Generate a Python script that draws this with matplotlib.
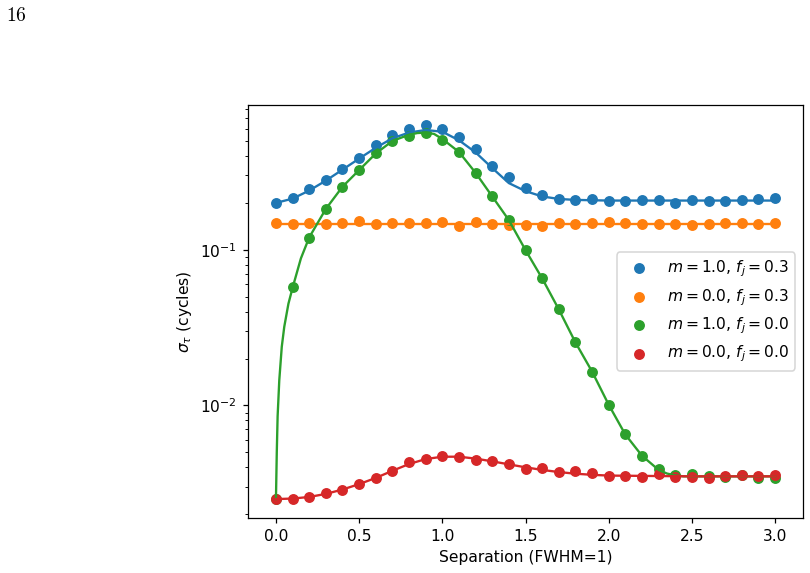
import numpy as np
import matplotlib.pyplot as plt

# separations at which the simulations were run
sep = np.round(np.arange(0, 3.01, 0.1), 1)

# simulated sigma_tau (cycles)
sig_m1_f03 = [0.200, 0.216, 0.244, 0.281, 0.331, 0.390, 0.473, 0.543, 0.600, 0.633,
              0.597, 0.532, 0.442, 0.345, 0.292, 0.250, 0.226, 0.213, 0.209, 0.211,
              0.206, 0.205, 0.210, 0.208, 0.1995, 0.208, 0.206, 0.205, 0.210, 0.211,
              0.214]
sig_m0_f03 = [0.149, 0.1456, 0.148, 0.147, 0.148, 0.154, 0.147, 0.148, 0.148, 0.148,
              0.150, 0.143, 0.151, 0.146, 0.144, 0.144, 0.143, 0.148, 0.146, 0.148,
              0.150, 0.149, 0.146, 0.146, 0.147, 0.145, 0.147, 0.149, 0.149, 0.146,
              0.148]
sig_m1_f00 = [0.0025, 0.0573, 0.1194, 0.183, 0.254, 0.325, 0.417, 0.500, 0.541, 0.560,
              0.507, 0.423, 0.311, 0.220, 0.155, 0.0995, 0.0655, 0.0414, 0.0254, 0.0165,
              0.01005, 0.00651, 0.00475, 0.00392, 0.00355, 0.00360, 0.00354, 0.00349,
              0.00355, 0.00343, 0.00343]
sig_m0_f00 = [0.00250, 0.00249, 0.00257, 0.00272, 0.00287, 0.00313, 0.00343, 0.00380,
              0.00434, 0.00450, 0.00472, 0.00465, 0.00448, 0.00436, 0.00422, 0.00392,
              0.00397, 0.00371, 0.00378, 0.00369, 0.00352, 0.00352, 0.00349, 0.00362,
              0.00346, 0.00349, 0.00343, 0.00352, 0.00355, 0.00350, 0.00355]

# model curves
mod_x = [0.0, 0.1, 0.2, 0.3, 0.4, 0.5, 0.6, 0.7, 0.8, 0.9, 1.0, 1.1, 1.2, 1.3, 1.4,
         1.5, 1.6, 1.7, 1.8, 1.9, 2.0, 2.5, 3.0]
mod_m1_f03 = [0.200, 0.213, 0.240, 0.278, 0.327, 0.385, 0.452, 0.520, 0.566, 0.588,
              0.573, 0.505, 0.422, 0.335, 0.268, 0.238, 0.220, 0.212, 0.209, 0.208,
              0.207, 0.207, 0.207]
mod_m0_f03 = [0.147] * len(mod_x)
mod_m0_f00 = [0.00250, 0.00252, 0.00258, 0.00270, 0.00288, 0.00312, 0.00342, 0.00380,
              0.00420, 0.00452, 0.00468, 0.00468, 0.00455, 0.00437, 0.00418, 0.00400,
              0.00385, 0.00373, 0.00364, 0.00358, 0.00354, 0.00350, 0.00350]

mod_x_g = [0.0, 0.002, 0.005, 0.01, 0.02, 0.035, 0.05, 0.075, 0.1, 0.15, 0.2, 0.3, 0.4,
           0.5, 0.6, 0.7, 0.8, 0.85, 0.9, 0.95, 1.0, 1.1, 1.2, 1.3, 1.4, 1.5, 1.6, 1.7,
           1.8, 1.9, 2.0, 2.1, 2.2, 2.3, 2.35, 2.4, 2.45, 2.5, 3.0]
mod_m1_f00 = [0.0025, 0.0033, 0.0050, 0.0085, 0.0145, 0.0238, 0.032, 0.045, 0.057,
              0.088, 0.120, 0.183, 0.254, 0.325, 0.415, 0.500, 0.548, 0.562, 0.566,
              0.555, 0.515, 0.425, 0.312, 0.220, 0.155, 0.0995, 0.0655, 0.0414, 0.0254,
              0.0165, 0.0101, 0.0065, 0.00475, 0.00385, 0.00365, 0.00355, 0.0035,
              0.0035, 0.0035]

labels = [r'$m = 1.0$, $f_j = 0.3$', r'$m = 0.0$, $f_j = 0.3$',
          r'$m = 1.0$, $f_j = 0.0$', r'$m = 0.0$, $f_j = 0.0$']

fig = plt.figure(figsize=(810 / 112, 573 / 112), dpi=112)
ax = fig.add_axes([248 / 810, 1 - 518 / 573, 555 / 810, 413 / 573])

ax.scatter(sep, sig_m1_f03, label=labels[0])
ax.scatter(sep, sig_m0_f03, label=labels[1])
ax.scatter(sep, sig_m1_f00, label=labels[2])
ax.scatter(sep, sig_m0_f00, label=labels[3])

ax.plot(mod_x, mod_m1_f03, color='C0')
ax.plot(mod_x, mod_m0_f03, color='C1')
ax.plot(mod_x_g, mod_m1_f00, color='C2')
ax.plot(mod_x, mod_m0_f00, color='C3')

ax.set_yscale('log')
ax.set_xlim(-0.168, 3.168)
ax.set_ylim(0.00189, 0.851)
ax.set_xlabel('Separation (FWHM=1)')
ax.set_ylabel(r'$\sigma_\tau$ (cycles)')
ax.legend(loc='center right')

# page number of the document the plot sits in
fig.text(0.008, 0.964, '$16$', math_fontfamily='cm', fontsize=12.5, va='baseline')

fig.savefig('out.png', dpi=112)
